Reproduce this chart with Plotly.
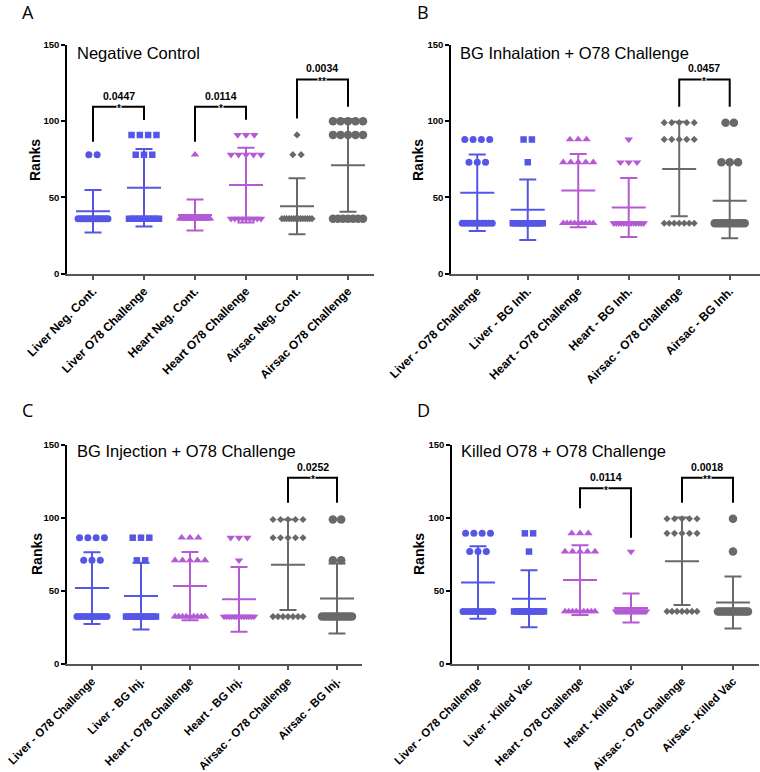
import numpy as np
import plotly.graph_objects as go

# ---------------- data (ranks) ----------------
# each group: number of animals at each tied rank level
A_categories = ["Liver Neg. Cont.", "Liver O78 Challenge", "Heart Neg. Cont.",
                "Heart O78 Challenge", "Airsac Neg. Cont.", "Airsac O78 Challenge"]
A_rank_levels = [100, 91, 78, 36]
A_counts = [[0, 0, 2, 15], [0, 4, 3, 10], [0, 0, 1, 16],
            [0, 3, 5, 9], [0, 1, 2, 14], [5, 5, 0, 7]]

B_categories = ["Liver - O78 Challenge", "Liver - BG Inh.", "Heart - O78 Challenge",
                "Heart - BG Inh.", "Airsac - O78 Challenge", "Airsac - BG Inh."]
B_rank_levels = [99, 88, 73, 33]
B_counts = [[0, 4, 3, 10], [0, 2, 1, 14], [0, 3, 5, 9],
            [0, 1, 3, 13], [5, 5, 0, 7], [2, 0, 3, 12]]

C_categories = ["Liver - O78 Challenge", "Liver - BG Inj.", "Heart - O78 Challenge",
                "Heart - BG Inj.", "Airsac - O78 Challenge", "Airsac - BG Inj."]
C_rank_levels = [99, 86.5, 71, 32.5]
C_counts = [[0, 4, 3, 10], [0, 3, 2, 12], [0, 3, 5, 9],
            [0, 3, 1, 13], [5, 5, 0, 7], [2, 0, 2, 13]]

D_categories = ["Liver - O78 Challenge", "Liver - Killed Vac", "Heart - O78 Challenge",
                "Heart - Killed Vac", "Airsac - O78 Challenge", "Airsac - Killed Vac"]
D_rank_levels = [99.5, 89.5, 77, 36]
D_counts = [[0, 4, 3, 10], [0, 2, 1, 14], [0, 3, 5, 9],
            [0, 0, 1, 16], [5, 5, 0, 7], [1, 0, 1, 15]]

panel_titles = ["Negative Control", "BG Inhalation + O78 Challenge",
                "BG Injection + O78 Challenge", "Killed O78 + O78 Challenge"]
panel_letters = ["A", "B", "C", "D"]

# comparisons: (group i, group j, bracket height, left leg end, right leg end, p, stars)
A_tests = [(0, 1, 109.5, 86.5, 100.7, "0.0447", "*"),
           (2, 3, 109.5, 86.5, 101.0, "0.0114", "*"),
           (4, 5, 127.4, 101.8, 109.5, "0.0034", "**")]
B_tests = [(4, 5, 127.4, 109.5, 109.5, "0.0457", "*")]
C_tests = [(4, 5, 127.6, 110.5, 110.5, "0.0252", "*")]
D_tests = [(2, 3, 120.3, 106.6, 86.5, "0.0114", "*"),
           (4, 5, 127.6, 110.5, 110.5, "0.0018", "**")]

# ---------------- styling ----------------
W, H = 760, 772
FONT = "Liberation Sans, Arial, sans-serif"
BLUE = "#5656e6"
PURPLE = "#b35ad4"
GRAY = "#696969"
symbols = ["circle", "square", "triangle-up", "triangle-down", "diamond", "circle"]
msizes = [7, 6.5, 7.5, 7.5, 5.5, 8.5]
colors = [BLUE, BLUE, PURPLE, PURPLE, GRAY, GRAY]

panels = [
    dict(cats=A_categories, levels=A_rank_levels, counts=A_counts, tests=A_tests,
         xpx=(67, 374), ypx=(45, 273.5), xr=(-0.51, 5.51), lblsize=12,
         title=(75, 53), ranks=(35, 160), letter=(28, 12)),
    dict(cats=B_categories, levels=B_rank_levels, counts=B_counts, tests=B_tests,
         xpx=(451, 760), ypx=(45, 273.5), xr=(-0.52, 5.6), lblsize=12,
         title=(458, 53), ranks=(418, 160), letter=(423, 12)),
    dict(cats=C_categories, levels=C_rank_levels, counts=C_counts, tests=C_tests,
         xpx=(67, 362), ypx=(445, 664), xr=(-0.51, 5.51), lblsize=11.5,
         title=(75, 451), ranks=(37, 554), letter=(28, 410)),
    dict(cats=D_categories, levels=D_rank_levels, counts=D_counts, tests=D_tests,
         xpx=(452, 759), ypx=(445, 664), xr=(-0.51, 5.51), lblsize=11.5,
         title=(459, 451), ranks=(419, 554), letter=(423, 410)),
]


def spread(n, unit_px, natural_px=8.3, max_px=30.0):
    if n <= 1:
        return [0.0] * n
    step = min(natural_px, max_px / (n - 1)) / unit_px
    return [(k - (n - 1) / 2.0) * step for k in range(n)]


fig = go.Figure()
layout = dict(width=W, height=H, margin=dict(l=0, r=0, t=0, b=0, autoexpand=False),
              paper_bgcolor="white", plot_bgcolor="white", showlegend=False,
              font=dict(family=FONT, color="black"))
annotations = []
shapes = []

for p, P in enumerate(panels):
    k = "" if p == 0 else str(p + 1)
    xa, ya = "x" + k, "y" + k
    x0, x1 = P["xpx"]
    yt, yb = P["ypx"]
    unit_px = (x1 - x0) / (P["xr"][1] - P["xr"][0])
    layout["xaxis" + k] = dict(
        domain=[x0 / W, x1 / W], range=list(P["xr"]), anchor=ya, automargin=False,
        tickmode="array", tickvals=list(range(6)), ticktext=P["cats"],
        tickangle=-45, ticks="outside", ticklen=4, tickwidth=1.5, tickcolor="#555",
        showline=True, linecolor="#555", linewidth=2, showgrid=False, zeroline=False,
        tickfont=dict(family=FONT, size=P["lblsize"], color="black", weight="bold"))
    layout["yaxis" + k] = dict(
        domain=[1 - yb / H, 1 - yt / H], range=[0, 150], anchor=xa, automargin=False,
        tickvals=[0, 50, 100, 150], ticks="outside", ticklen=4, tickwidth=1.5,
        tickcolor="black", showline=True, linecolor="black", linewidth=1.5,
        showgrid=False, zeroline=False,
        tickfont=dict(family=FONT, size=9.5, color="black", weight="bold"))

    for g, cnts in enumerate(P["counts"]):
        xs, ys = [], []
        for lvl, n in zip(P["levels"], cnts):
            for off in spread(n, unit_px):
                xs.append(g + off)
                ys.append(lvl)
        vals = np.array(ys, dtype=float)
        mean = vals.mean()
        sd = vals.std(ddof=1)
        fig.add_trace(go.Scatter(
            x=xs, y=ys, mode="markers", xaxis=xa, yaxis=ya,
            marker=dict(symbol=symbols[g], size=msizes[g], color=colors[g],
                        line=dict(width=0)), hoverinfo="skip"))
        fig.add_trace(go.Scatter(
            x=[g], y=[mean], mode="markers", xaxis=xa, yaxis=ya,
            marker=dict(size=1, color="rgba(0,0,0,0)"),
            error_y=dict(type="data", array=[sd], visible=True, color=colors[g],
                         thickness=2, width=8.5), hoverinfo="skip"))
        hw = 17.0 / unit_px
        fig.add_trace(go.Scatter(
            x=[g - hw, g + hw], y=[mean, mean], mode="lines", xaxis=xa, yaxis=ya,
            line=dict(color=colors[g], width=2), hoverinfo="skip"))

    for (i, j, yb_, yl, yr, pv, st) in P["tests"]:
        shapes.append(dict(type="path", xref=xa, yref=ya,
                           path=f"M {i},{yl} L {i},{yb_} L {j},{yb_} L {j},{yr}",
                           line=dict(color="black", width=2)))
        annotations.append(dict(x=(i + j) / 2, y=yb_, xref=xa, yref=ya, text=st,
                                showarrow=False, yanchor="middle", yshift=-2,
                                bgcolor="white", borderpad=0,
                                font=dict(family=FONT, size=10, color="black", weight="bold")))
        annotations.append(dict(x=(i + j) / 2, y=yb_, xref=xa, yref=ya, text=pv,
                                showarrow=False, yanchor="bottom", yshift=3,
                                font=dict(family=FONT, size=10.5, color="black", weight="bold")))

    tx, ty = P["title"]
    annotations.append(dict(x=tx / W, y=1 - ty / H, xref="paper", yref="paper",
                            text=panel_titles[p], showarrow=False, xanchor="left",
                            yanchor="middle",
                            font=dict(family=FONT, size=16.5, color="black")))
    rx, ry = P["ranks"]
    annotations.append(dict(x=rx / W, y=1 - ry / H, xref="paper", yref="paper",
                            text="Ranks", showarrow=False, textangle=-90,
                            xanchor="center", yanchor="middle",
                            font=dict(family=FONT, size=14, color="black", weight="bold")))
    lx, ly = P["letter"]
    annotations.append(dict(x=lx / W, y=1 - ly / H, xref="paper", yref="paper",
                            text=panel_letters[p], showarrow=False,
                            xanchor="center", yanchor="middle",
                            font=dict(family="Open Sans, Liberation Sans", size=18,
                                      color="black")))

layout["annotations"] = annotations
layout["shapes"] = shapes
fig.update_layout(**layout)
fig.write_html("out.html", config={"displayModeBar": False},
               post_script="document.body.style.margin='0px';"
                           "document.body.style.overflow='hidden';")
